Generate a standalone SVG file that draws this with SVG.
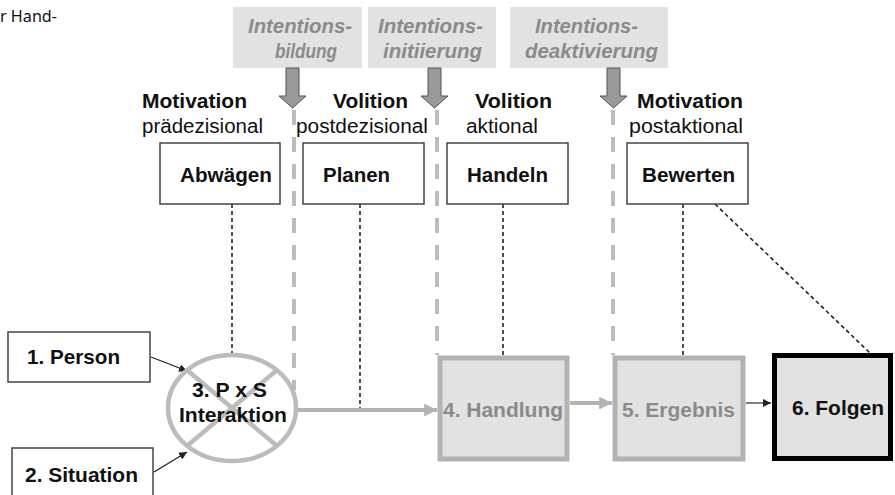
<svg xmlns="http://www.w3.org/2000/svg" width="895" height="495" viewBox="0 0 895 495">
<style>
text{font-family:"Liberation Sans",Arial,sans-serif}
.b{font-weight:bold;fill:#111}
.r{fill:#111}
.it{font-weight:bold;font-style:italic;fill:#8a8a8a;font-size:21px}
.gb{fill:#e2e2e2}
.wb{fill:#fff;stroke:#444;stroke-width:1.5}
.dot{stroke:#222;stroke-width:1.6;stroke-dasharray:4 3;fill:none}
.gd{stroke:#bcbcbc;stroke-width:4;stroke-dasharray:15 12;fill:none}
.barr{fill:#9a9a9a;stroke:#555;stroke-width:1}
.gray{fill:#e2e2e2;stroke:#b3b3b3;stroke-width:5}
.gt{font-weight:bold;fill:#8a8a8a;font-size:21px}
</style>
<defs>
<marker id="ga" viewBox="0 0 10 10" refX="10" refY="5" markerWidth="3.2" markerHeight="3.2" orient="auto" markerUnits="strokeWidth"><path d="M0,0 L10,5 L0,10 Z" fill="#b3b3b3"/></marker>
<marker id="ka" viewBox="0 0 10 10" refX="10" refY="5" markerWidth="8" markerHeight="8" orient="auto" markerUnits="userSpaceOnUse"><path d="M0,0 L10,5 L0,10 Z" fill="#222"/></marker>
</defs>

<text x="0" y="22" style="font-family:'Noto Sans',sans-serif;font-size:16px" fill="#111" textLength="57" lengthAdjust="spacingAndGlyphs">r Hand-</text>

<g id="intentionsbildung">
<rect class="gb" x="233" y="7" width="129" height="61"/>
<text class="it" x="248" y="33" textLength="104" lengthAdjust="spacingAndGlyphs">Intentions-</text>
<text class="it" x="275" y="58" textLength="62" lengthAdjust="spacingAndGlyphs">bildung</text>
<path class="barr" d="M286,68 H299 V96 H306 L292.5,108 L279,96 H286 Z"/>
</g>
<g id="intentionsinitiierung">
<rect class="gb" x="368" y="7" width="128" height="61"/>
<text class="it" x="378" y="33" textLength="105" lengthAdjust="spacingAndGlyphs">Intentions-</text>
<text class="it" x="383" y="58" textLength="99" lengthAdjust="spacingAndGlyphs">initiierung</text>
<path class="barr" d="M428,68 H441 V96 H448 L434.5,108 L421,96 H428 Z"/>
</g>
<g id="intentionsdeaktivierung">
<rect class="gb" x="510" y="7" width="158" height="61"/>
<text class="it" x="535" y="33" textLength="103" lengthAdjust="spacingAndGlyphs">Intentions-</text>
<text class="it" x="525" y="58" textLength="133" lengthAdjust="spacingAndGlyphs">deaktivierung</text>
<path class="barr" d="M607,68 H620 V96 H627 L613.5,108 L600,96 H607 Z"/>
</g>

<g id="phase-labels">
<text class="b" x="142" y="108" font-size="20" textLength="105" lengthAdjust="spacingAndGlyphs">Motivation</text>
<text class="r" x="142" y="133" font-size="20" textLength="121" lengthAdjust="spacingAndGlyphs">prädezisional</text>
<text class="b" x="333" y="108" font-size="20" textLength="75" lengthAdjust="spacingAndGlyphs">Volition</text>
<text class="r" x="296" y="133" font-size="20" textLength="132" lengthAdjust="spacingAndGlyphs">postdezisional</text>
<text class="b" x="475" y="108" font-size="20" textLength="77" lengthAdjust="spacingAndGlyphs">Volition</text>
<text class="r" x="466" y="133" font-size="20" textLength="72" lengthAdjust="spacingAndGlyphs">aktional</text>
<text class="b" x="637" y="108" font-size="20" textLength="106" lengthAdjust="spacingAndGlyphs">Motivation</text>
<text class="r" x="629" y="133" font-size="20" textLength="114" lengthAdjust="spacingAndGlyphs">postaktional</text>
</g>

<g id="connectors">
<line class="gd" x1="294" y1="110" x2="294" y2="390"/>
<line class="gd" x1="437" y1="110" x2="437" y2="355"/>
<line class="gd" x1="613" y1="110" x2="613" y2="355"/>
<line class="dot" x1="232" y1="204" x2="232" y2="353"/>
<line class="dot" x1="360" y1="204" x2="360" y2="410"/>
<line class="dot" x1="503" y1="204" x2="503" y2="355"/>
<line class="dot" x1="683" y1="204" x2="683" y2="355"/>
<line class="dot" x1="715" y1="204" x2="870" y2="353"/>
<line x1="298" y1="410" x2="437" y2="410" stroke="#b3b3b3" stroke-width="4" marker-end="url(#ga)"/>
<line x1="570" y1="403" x2="612" y2="403" stroke="#b3b3b3" stroke-width="4" marker-end="url(#ga)"/>
<line x1="746" y1="403" x2="771" y2="403" stroke="#555" stroke-width="1.5" marker-end="url(#ka)"/>
<line x1="151" y1="357" x2="187" y2="371" stroke="#222" stroke-width="1.3" marker-end="url(#ka)"/>
<line x1="154" y1="472" x2="187" y2="452" stroke="#222" stroke-width="1.3" marker-end="url(#ka)"/>
</g>

<g id="abwaegen">
<rect class="wb" x="160" y="143" width="120" height="61"/>
<text class="b" x="180" y="182" font-size="19.5" textLength="92" lengthAdjust="spacingAndGlyphs">Abwägen</text>
</g>
<g id="planen">
<rect class="wb" x="303" y="143" width="121" height="61"/>
<text class="b" x="323" y="182" font-size="19.5" textLength="67" lengthAdjust="spacingAndGlyphs">Planen</text>
</g>
<g id="handeln">
<rect class="wb" x="447" y="143" width="121" height="61"/>
<text class="b" x="467" y="182" font-size="19.5" textLength="81" lengthAdjust="spacingAndGlyphs">Handeln</text>
</g>
<g id="bewerten">
<rect class="wb" x="627" y="143" width="121" height="61"/>
<text class="b" x="642" y="182" font-size="19.5" textLength="93" lengthAdjust="spacingAndGlyphs">Bewerten</text>
</g>

<g id="person">
<rect class="wb" x="8" y="332" width="142" height="50"/>
<text class="b" x="27" y="364" font-size="21" textLength="93" lengthAdjust="spacingAndGlyphs">1. Person</text>
</g>
<g id="situation">
<rect class="wb" x="12" y="448" width="141" height="60"/>
<text class="b" x="25" y="482" font-size="21" textLength="113" lengthAdjust="spacingAndGlyphs">2. Situation</text>
</g>

<g id="interaktion">
<ellipse cx="232" cy="408" rx="64" ry="53" fill="none" stroke="#bcbcbc" stroke-width="4.5"/>
<line x1="187" y1="370" x2="277" y2="446" stroke="#bcbcbc" stroke-width="4.5"/>
<line x1="277" y1="370" x2="187" y2="446" stroke="#bcbcbc" stroke-width="4.5"/>
<text class="b" x="192" y="397" font-size="21" textLength="75" lengthAdjust="spacingAndGlyphs">3. P x S</text>
<text class="b" x="179" y="422" font-size="21" textLength="108" lengthAdjust="spacingAndGlyphs">Interaktion</text>
</g>

<g id="handlung">
<rect class="gray" x="440" y="358" width="127" height="101"/>
<text class="gt" x="443" y="417" textLength="120" lengthAdjust="spacingAndGlyphs">4. Handlung</text>
</g>
<g id="ergebnis">
<rect class="gray" x="615" y="358" width="128" height="101"/>
<text class="gt" x="622" y="417" textLength="113" lengthAdjust="spacingAndGlyphs">5. Ergebnis</text>
</g>
<g id="folgen">
<rect x="774.5" y="355.5" width="116" height="103" fill="#e2e2e2" stroke="#000" stroke-width="5"/>
<text class="b" x="792" y="415" font-size="21" textLength="92" lengthAdjust="spacingAndGlyphs">6. Folgen</text>
</g>
</svg>
